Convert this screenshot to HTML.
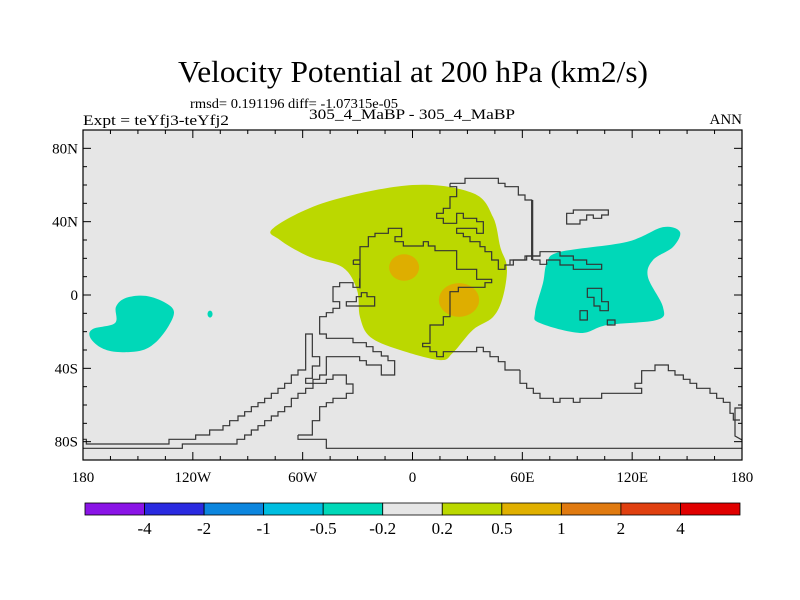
<!DOCTYPE html>
<html><head><meta charset="utf-8"><style>
html,body{margin:0;padding:0;background:#fff;}
svg{display:block;font-family:"Liberation Serif",serif;}
</style></head><body>
<svg id="chart" width="800" height="600" viewBox="0 0 800 600">
<text x="413" y="82" text-anchor="middle" font-size="31" textLength="470" lengthAdjust="spacingAndGlyphs">Velocity Potential at 200 hPa (km2/s)</text>
<text x="190" y="108" font-size="13.5" textLength="208" lengthAdjust="spacingAndGlyphs">rmsd= 0.191196 diff= -1.07315e-05</text>
<text x="83" y="125" font-size="15" textLength="146" lengthAdjust="spacingAndGlyphs">Expt = teYfj3-teYfj2</text>
<text x="412" y="119" text-anchor="middle" font-size="15" textLength="206" lengthAdjust="spacingAndGlyphs">305_4_MaBP - 305_4_MaBP</text>
<text x="742" y="124" text-anchor="end" font-size="15">ANN</text>
<defs><clipPath id="plotclip"><rect x="83" y="130" width="659" height="330"/></clipPath></defs>
<rect x="83" y="130" width="659" height="330" fill="#e6e6e6"/>
<g id="contours" clip-path="url(#plotclip)"></g>
<g clip-path="url(#plotclip)" fill="none" stroke="#333">
<g transform="translate(260,170) scale(0.33333)" stroke-width="3.6">
<path d="M300,355 L300,230 L325,230 L325,200 L345,200 L345,190 L385,190 L385,175 L425,175 L425,200 L405,200 L405,215 L430,215 L430,228 L490,228 L490,215 L505,215 L505,228 L525,228 L525,242 L590,242 L590,298 L650,298 L650,328 L695,328 L695,338 L675,338 L675,352 L595,352 L595,365 L570,365 L570,440 L550,440 L550,465 L510,465 L510,520 L488,520 L488,530 L510,530 L510,545 L530,545 L530,560 L550,560 L550,545 L650,545 L650,532 L670,532 L670,545 L690,545 L690,560 L715,560 L715,575 L735,575 L735,600 L780,600"/>
<path d="M280,270 L300,270 M280,270 L280,283 L300,283"/>
<path d="M570,40 L615,40 L615,25 L715,25 L715,40 L735,40 L735,50 L775,50 L775,75 L795,75 L795,90 L815,90 L815,270"/>
<path d="M570,40 L570,50 L590,50 L590,80 L570,80 L570,115 L550,115 L550,130 L530,130 L530,145 L550,145 L550,160 L590,160 L590,130 L610,130 L610,145 L650,145 L650,155 L670,155 L670,190 L650,190 L650,175 L590,175 L590,190 L610,190 L610,200 L630,200 L630,215 L660,215 L660,230 L675,230 L675,245 L695,245 L695,270 L715,270 L715,298 L735,298 L735,285 L760,285 L760,270 L800,270 L800,258 L840,258"/>
</g>
<g transform="translate(400,170) scale(0.33333)" stroke-width="3.6">
<path d="M398,90 L398,270 M330,283 L330,270 L375,270 L375,258 L420,258 L420,245 L480,245 L480,258 L520,258 L520,270 L560,270 L560,283 L605,283 L605,298 L520,298 L520,285 L480,285 L480,270 L440,270 L440,283 L420,283 L420,270 L398,270"/>
<path d="M500,130 L520,130 L520,120 L625,120 L625,135 L605,135 L605,145 L580,145 L580,135 L560,135 L560,150 L540,150 L540,162 L500,162 Z"/>
</g>
<g transform="translate(520,200) scale(0.33333)" stroke-width="3.6">
<path d="M202,265 L245,265 L245,305 L265,305 L265,332 L240,332 L240,318 L222,318 L222,292 L202,292 Z"/>
<path d="M180,332 L202,332 L202,360 L180,360 Z"/>
<path d="M262,360 L285,360 L285,375 L262,375 Z"/>
<path d="M0,510 L0,550 L20,550 L20,565 L40,565 L40,580 L60,580 L60,595 L100,595 L100,607 L120,607 L120,595 L160,595 L160,607 L180,607 L180,595 L245,595 L245,580 L365,580 L365,565 L345,565 L345,550 L365,550 L365,512 L405,512 L405,495 L445,495 L445,512 L465,512 L465,525 L490,525 L490,538 L510,538 L510,550 L530,550 L530,565 L570,565 L570,580 L590,580 L590,595 L610,595 L610,607 L630,607 L630,640 L640,640 L640,660 L660,660"/>
</g>
<path d="M742,408 L735,408 L735,436 L742,440" stroke-width="1.2"/>
<g transform="translate(83,280) scale(0.33333)" stroke-width="3.6">
<path d="M0,478 L10,478 L10,492 L258,492 L258,478 L338,478 L338,465 L380,465 L380,450 L420,450 L420,437 L440,437 L440,422 L465,422 L465,408 L485,408 L485,395 L505,395 L505,380 L525,380 L525,368 L545,368 L545,355 L565,355 L565,340 L585,340 L585,325 L605,325 L605,310 L625,310 L625,285 L645,285 L645,270 L668,270 L668,162 L688,162 L688,230 L710,230 L710,258 L688,258 L688,295 L668,295 L668,310 L690,310 L690,298 L710,298 L710,285 L730,285 L730,230 L830,230 L830,242 L850,242 L850,255 L895,255 L895,285 L935,285 L935,242 L915,242 L915,228 L895,228 L895,215 L870,215 L870,200 L850,200 L850,188 L810,188 L810,175 L730,175 L730,162 L710,162 L710,110 L730,110 L730,98 L750,98 L750,85 L770,85 L770,65 L750,65 L750,20 L770,20 L770,8 L810,8 L810,22 L830,22 L830,-5"/>
<path d="M790,78 L875,78 L875,50 L852,50 L852,38 L835,38 L835,50 L820,50 L820,65 L790,65 Z"/>
<path d="M0,505 L298,505 L298,492 L462,492 L462,478 L485,478 L485,465 L505,465 L505,450 L525,450 L525,437 L545,437 L545,422 L565,422 L565,408 L585,408 L585,395 L605,395 L605,380 L625,380 L625,355 L645,355 L645,340 L668,340 L668,325 L690,325 L690,310"/>
<path d="M645,465 L645,478 L730,478 L730,505 L1980,505"/>
<path d="M645,465 L688,465 L688,422 L710,422 L710,380 L730,380 L730,368 L750,368 L750,355 L790,355 L790,340 L810,340 L810,312 L790,312 L790,285 L750,285 L750,298 L730,298 L730,310 L690,310"/>
</g>
</g>
<g id="axes"></g>
<rect x="83" y="130" width="659" height="330" fill="none" stroke="#000" stroke-width="1.2"/>
<g id="colorbar"></g>
</svg>
<script>
// Contour fill data (lon, lat in degrees)
const greenLon = [-76,-47,0,33,44,48,51.6,49.4,44,33,22,15,-6.8,-23,-28.7,-30.3,-38,-56,-72.4];
const greenLat = [36.5,50.7,60,55.6,42.5,26,15,-1,-12,-19,-31.6,-35.5,-30,-23,-12,2.7,15,20.7,30];
const tealEastLon = [73.5,80.6,117.2,136.8,146.1,142.3,131.4,128.6,136.8,133.6,106.2,91.5,69.6,66.9,71.3];
const tealEastLat = [17.5,23.5,29,37,34.4,26.2,19.1,9.8,-6.5,-13.6,-16.4,-20.7,-15.3,-9.8,6.6];
const tealWestLon = [-176.2,-174.5,-162.5,-162,-156.5,-145.6,-134.7,-130.3,-133.6,-140.7,-148.9,-162,-170.7];
const tealWestLat = [-22.9,-18.5,-15.3,-6.5,-1.6,-0.5,-4.4,-9.3,-17.5,-26.2,-30.5,-31,-28.4];
const orangeCenterLon = [-4.6, 25.4];
const orangeCenterLat = [15, -2.7];
const orangeRadLon = [8.2, 11];
const orangeRadLat = [7.2, 9.2];
const dotLon = [-110.6], dotLat = [-10.4];
// axes labels
const lonTicks = [-180,-120,-60,0,60,120,180];
const lonLabels = ["180","120W","60W","0","60E","120E","180"];
const latTicks = [80,40,0,-40,-80];
const latLabels = ["80N","40N","0","40S","80S"];
// colorbar
const cbColors = ["#8a14e6","#2a2ae0","#0c86de","#00bee0","#00d8b8","#e6e6e6","#bbd800","#e0b000","#e07a10","#e04010","#e00000"];
const cbLabels = ["-4","-2","-1","-0.5","-0.2","0.2","0.5","1","2","4"];

const NS="http://www.w3.org/2000/svg";
const X0=83,X1=742,Y0=130,Y1=460;
const xS = lon => X0 + (lon+180)/360*(X1-X0);
const yS = lat => Y0 + (90-lat)/180*(Y1-Y0);
function mk(tag, attrs, parent){const e=document.createElementNS(NS,tag);for(const k in attrs)e.setAttribute(k,attrs[k]);parent.appendChild(e);return e;}
function smooth(lons,lats){
  const p=lons.map((l,i)=>[xS(l),yS(lats[i])]);const n=p.length;
  let d=`M${p[0][0]},${p[0][1]}`;
  for(let i=0;i<n;i++){const p0=p[(i-1+n)%n],p1=p[i],p2=p[(i+1)%n],p3=p[(i+2)%n];
    const c1=[p1[0]+(p2[0]-p0[0])/6,p1[1]+(p2[1]-p0[1])/6],c2=[p2[0]-(p3[0]-p1[0])/6,p2[1]-(p3[1]-p1[1])/6];
    d+=` C${c1[0]},${c1[1]} ${c2[0]},${c2[1]} ${p2[0]},${p2[1]}`;}
  return d+"Z";
}
const cg=document.getElementById('contours');
let e;
e=mk('path',{d:smooth(greenLon,greenLat),fill:"#bbd800"},cg);


for(let i=0;i<orangeCenterLon.length;i++){
  e=mk('ellipse',{cx:xS(orangeCenterLon[i]),cy:yS(orangeCenterLat[i]),rx:xS(orangeRadLon[i])-xS(0),ry:yS(0)-yS(orangeRadLat[i]),fill:"#deae00"},cg);
  
  
}
e=mk('path',{d:smooth(tealEastLon,tealEastLat),fill:"#00d8b8"},cg);


e=mk('path',{d:smooth(tealWestLon,tealWestLat),fill:"#00d8b8"},cg);


e=mk('ellipse',{cx:xS(dotLon[0]),cy:yS(dotLat[0]),rx:2.5,ry:3.5,fill:"#00d8b8"},cg);



const ag=document.getElementById('axes');
for(let lon=-180;lon<=180;lon+=15){
  const major=lonTicks.includes(lon);const L=major?8:4;
  mk('line',{x1:xS(lon),x2:xS(lon),y1:Y1,y2:Y1-L,stroke:"#000","stroke-width":1},ag);
  mk('line',{x1:xS(lon),x2:xS(lon),y1:Y0,y2:Y0+L,stroke:"#000","stroke-width":1},ag);
}
for(let lat=-90;lat<=90;lat+=10){
  const major=latTicks.includes(lat);const L=major?8:4;
  mk('line',{x1:X0,x2:X0+L,y1:yS(lat),y2:yS(lat),stroke:"#000","stroke-width":1},ag);
  mk('line',{x1:X1,x2:X1-L,y1:yS(lat),y2:yS(lat),stroke:"#000","stroke-width":1},ag);
}
lonTicks.forEach((v,i)=>{
  e=mk('text',{x:xS(v),y:Y1+22,"text-anchor":"middle","font-size":15},ag);
  e.textContent=lonLabels[i];
  
  
});
latTicks.forEach((v,i)=>{
  e=mk('text',{x:X0-5,y:yS(v)+5,"text-anchor":"end","font-size":15},ag);
  e.textContent=latLabels[i];
  
  
});

const cb=document.getElementById('colorbar');
const CB0=85,CB1=740,CBY=503,CBH=12,w=(CB1-CB0)/cbColors.length;
cbColors.forEach((c,i)=>{
  e=mk('rect',{x:CB0+i*w,y:CBY,width:w,height:CBH,fill:c,stroke:"#000","stroke-width":0.8},cb);
  
  
});
cbLabels.forEach((t,i)=>{
  e=mk('text',{x:CB0+(i+1)*w,y:CBY+CBH+19,"text-anchor":"middle","font-size":17},cb);
  e.textContent=t;
  
  
});
</script>
</body></html>
